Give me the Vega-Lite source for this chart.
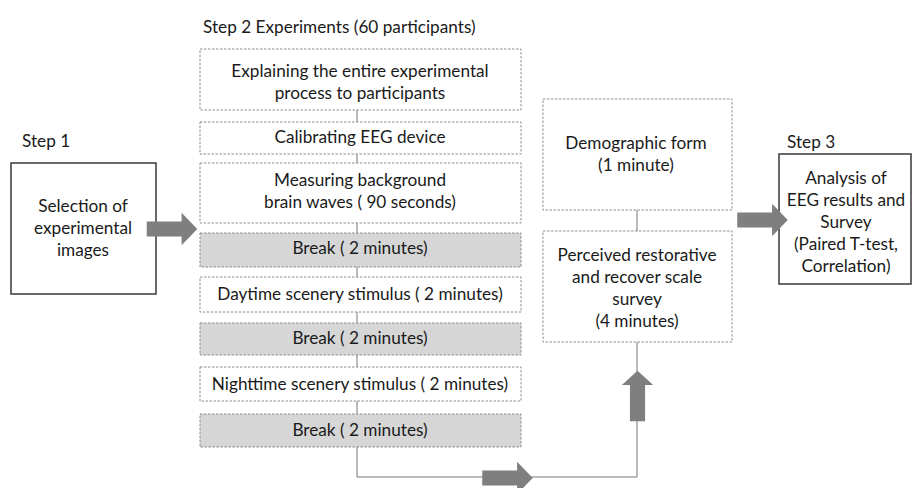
{
  "$schema": "https://vega.github.io/schema/vega-lite/v6.json",
  "width": 912,
  "height": 488,
  "autosize": {"type": "none"},
  "padding": 0,
  "background": "white",
  "config": {"view": {"stroke": null}},
  "datasets": {
    "boxes": [
      {"id": "step1", "kind": "solid", "x1": 11, "x2": 156, "y1": 163, "y2": 294},
      {"id": "explain", "kind": "dashed", "x1": 200, "x2": 521, "y1": 49, "y2": 110},
      {"id": "calib", "kind": "dashed", "x1": 200, "x2": 521, "y1": 122, "y2": 154},
      {"id": "measure", "kind": "dashed", "x1": 200, "x2": 521, "y1": 163, "y2": 223},
      {"id": "break1", "kind": "break", "x1": 200, "x2": 521, "y1": 233, "y2": 267},
      {"id": "day", "kind": "dashed", "x1": 200, "x2": 521, "y1": 277, "y2": 312},
      {"id": "break2", "kind": "break", "x1": 200, "x2": 521, "y1": 323, "y2": 355},
      {"id": "night", "kind": "dashed", "x1": 200, "x2": 521, "y1": 367, "y2": 401},
      {"id": "break3", "kind": "break", "x1": 200, "x2": 521, "y1": 414, "y2": 447},
      {"id": "demo", "kind": "dashed", "x1": 543, "x2": 732, "y1": 99, "y2": 210},
      {"id": "survey", "kind": "dashed", "x1": 543, "x2": 732, "y1": 231, "y2": 342},
      {"id": "step3", "kind": "solid", "x1": 779, "x2": 911, "y1": 154, "y2": 284}
    ],
    "lines": [
      {"x1": 357, "y1": 110, "x2": 357, "y2": 477},
      {"x1": 357, "y1": 477, "x2": 637, "y2": 477},
      {"x1": 637, "y1": 477, "x2": 637, "y2": 210}
    ],
    "arrows": [
      {"cx": 172, "cy": 229, "dir": "right"},
      {"cx": 507.5, "cy": 478, "dir": "right"},
      {"cx": 762.5, "cy": 220, "dir": "right"},
      {"cx": 637.5, "cy": 396, "dir": "up"}
    ],
    "texts": [
      {"label": "Step 2 Experiments (60 participants)", "tx": 203, "ty": 28, "align": "left"},
      {"label": "Step 1", "tx": 22, "ty": 142, "align": "left"},
      {"label": "Step 3", "tx": 787, "ty": 143, "align": "left"},
      {"label": "Selection of", "tx": 83, "ty": 207, "align": "center"},
      {"label": "experimental", "tx": 83, "ty": 229, "align": "center"},
      {"label": "images", "tx": 83, "ty": 251, "align": "center"},
      {"label": "Explaining the entire experimental", "tx": 360, "ty": 72, "align": "center"},
      {"label": "process to participants", "tx": 360, "ty": 94, "align": "center"},
      {"label": "Calibrating EEG device", "tx": 360, "ty": 138, "align": "center"},
      {"label": "Measuring background", "tx": 360, "ty": 181, "align": "center"},
      {"label": "brain waves ( 90 seconds)", "tx": 360, "ty": 203, "align": "center"},
      {"label": "Break ( 2 minutes)", "tx": 360, "ty": 249, "align": "center"},
      {"label": "Daytime scenery stimulus ( 2 minutes)", "tx": 360, "ty": 295, "align": "center"},
      {"label": "Break ( 2 minutes)", "tx": 360, "ty": 339, "align": "center"},
      {"label": "Nighttime scenery stimulus ( 2 minutes)", "tx": 360, "ty": 385, "align": "center"},
      {"label": "Break ( 2 minutes)", "tx": 360, "ty": 431, "align": "center"},
      {"label": "Demographic form", "tx": 636, "ty": 144, "align": "center"},
      {"label": "(1 minute)", "tx": 636, "ty": 166, "align": "center"},
      {"label": "Perceived restorative", "tx": 637, "ty": 256, "align": "center"},
      {"label": "and recover scale", "tx": 637, "ty": 278, "align": "center"},
      {"label": "survey", "tx": 637, "ty": 300, "align": "center"},
      {"label": "(4 minutes)", "tx": 637, "ty": 322, "align": "center"},
      {"label": "Analysis of", "tx": 846, "ty": 179, "align": "center"},
      {"label": "EEG results and", "tx": 846, "ty": 201, "align": "center"},
      {"label": "Survey", "tx": 846, "ty": 223, "align": "center"},
      {"label": "(Paired T-test,", "tx": 846, "ty": 245, "align": "center"},
      {"label": "Correlation)", "tx": 846, "ty": 267, "align": "center"}
    ]
  },
  "layer": [
    {
      "data": {"name": "lines"},
      "mark": {"type": "rule", "color": "#777777", "strokeWidth": 1},
      "encoding": {
        "x": {"field": "x1", "type": "quantitative", "scale": {"domain": [0, 912], "nice": false, "zero": false}, "axis": null},
        "x2": {"field": "x2"},
        "y": {"field": "y1", "type": "quantitative", "scale": {"domain": [0, 488], "nice": false, "zero": false, "reverse": true}, "axis": null},
        "y2": {"field": "y2"}
      }
    },
    {
      "data": {"name": "boxes"},
      "transform": [{"filter": "datum.kind === 'dashed'"}],
      "mark": {"type": "rect", "fill": "white", "stroke": "#8c8c8c", "strokeWidth": 1, "strokeDash": [2.5, 1.5]},
      "encoding": {
        "x": {"field": "x1", "type": "quantitative"},
        "x2": {"field": "x2"},
        "y": {"field": "y1", "type": "quantitative"},
        "y2": {"field": "y2"}
      }
    },
    {
      "data": {"name": "boxes"},
      "transform": [{"filter": "datum.kind === 'break'"}],
      "mark": {"type": "rect", "fill": "#d6d6d6", "stroke": "#8c8c8c", "strokeWidth": 1, "strokeDash": [2.5, 1.5]},
      "encoding": {
        "x": {"field": "x1", "type": "quantitative"},
        "x2": {"field": "x2"},
        "y": {"field": "y1", "type": "quantitative"},
        "y2": {"field": "y2"}
      }
    },
    {
      "data": {"name": "boxes"},
      "transform": [{"filter": "datum.kind === 'solid'"}],
      "mark": {"type": "rect", "fill": "white", "stroke": "#3a3a3a", "strokeWidth": 1.5},
      "encoding": {
        "x": {"field": "x1", "type": "quantitative"},
        "x2": {"field": "x2"},
        "y": {"field": "y1", "type": "quantitative"},
        "y2": {"field": "y2"}
      }
    },
    {
      "data": {"name": "arrows"},
      "mark": {"type": "point", "filled": true, "fill": "#7f7f7f", "opacity": 1, "strokeWidth": 0, "size": 2550},
      "encoding": {
        "x": {"field": "cx", "type": "quantitative"},
        "y": {"field": "cy", "type": "quantitative"},
        "shape": {
          "field": "dir",
          "type": "nominal",
          "legend": null,
          "scale": {
            "domain": ["right", "up"],
            "range": [
              "M-1,-0.3L0.38,-0.3L0.38,-0.64L1,0L0.38,0.64L0.38,0.3L-1,0.3Z",
              "M-0.3,1L-0.3,-0.44L-0.62,-0.44L0,-1L0.62,-0.44L0.3,-0.44L0.3,1Z"
            ]
          }
        }
      }
    },
    {
      "data": {"name": "texts"},
      "transform": [{"filter": "datum.align === 'center'"}],
      "mark": {"type": "text", "font": "Lato", "fontSize": 17.2, "color": "#1a1a1a", "align": "center", "baseline": "middle"},
      "encoding": {
        "x": {"field": "tx", "type": "quantitative"},
        "y": {"field": "ty", "type": "quantitative"},
        "text": {"field": "label"}
      }
    },
    {
      "data": {"name": "texts"},
      "transform": [{"filter": "datum.align === 'left'"}],
      "mark": {"type": "text", "font": "Lato", "fontSize": 17.2, "color": "#1a1a1a", "align": "left", "baseline": "middle"},
      "encoding": {
        "x": {"field": "tx", "type": "quantitative"},
        "y": {"field": "ty", "type": "quantitative"},
        "text": {"field": "label"}
      }
    }
  ]
}
